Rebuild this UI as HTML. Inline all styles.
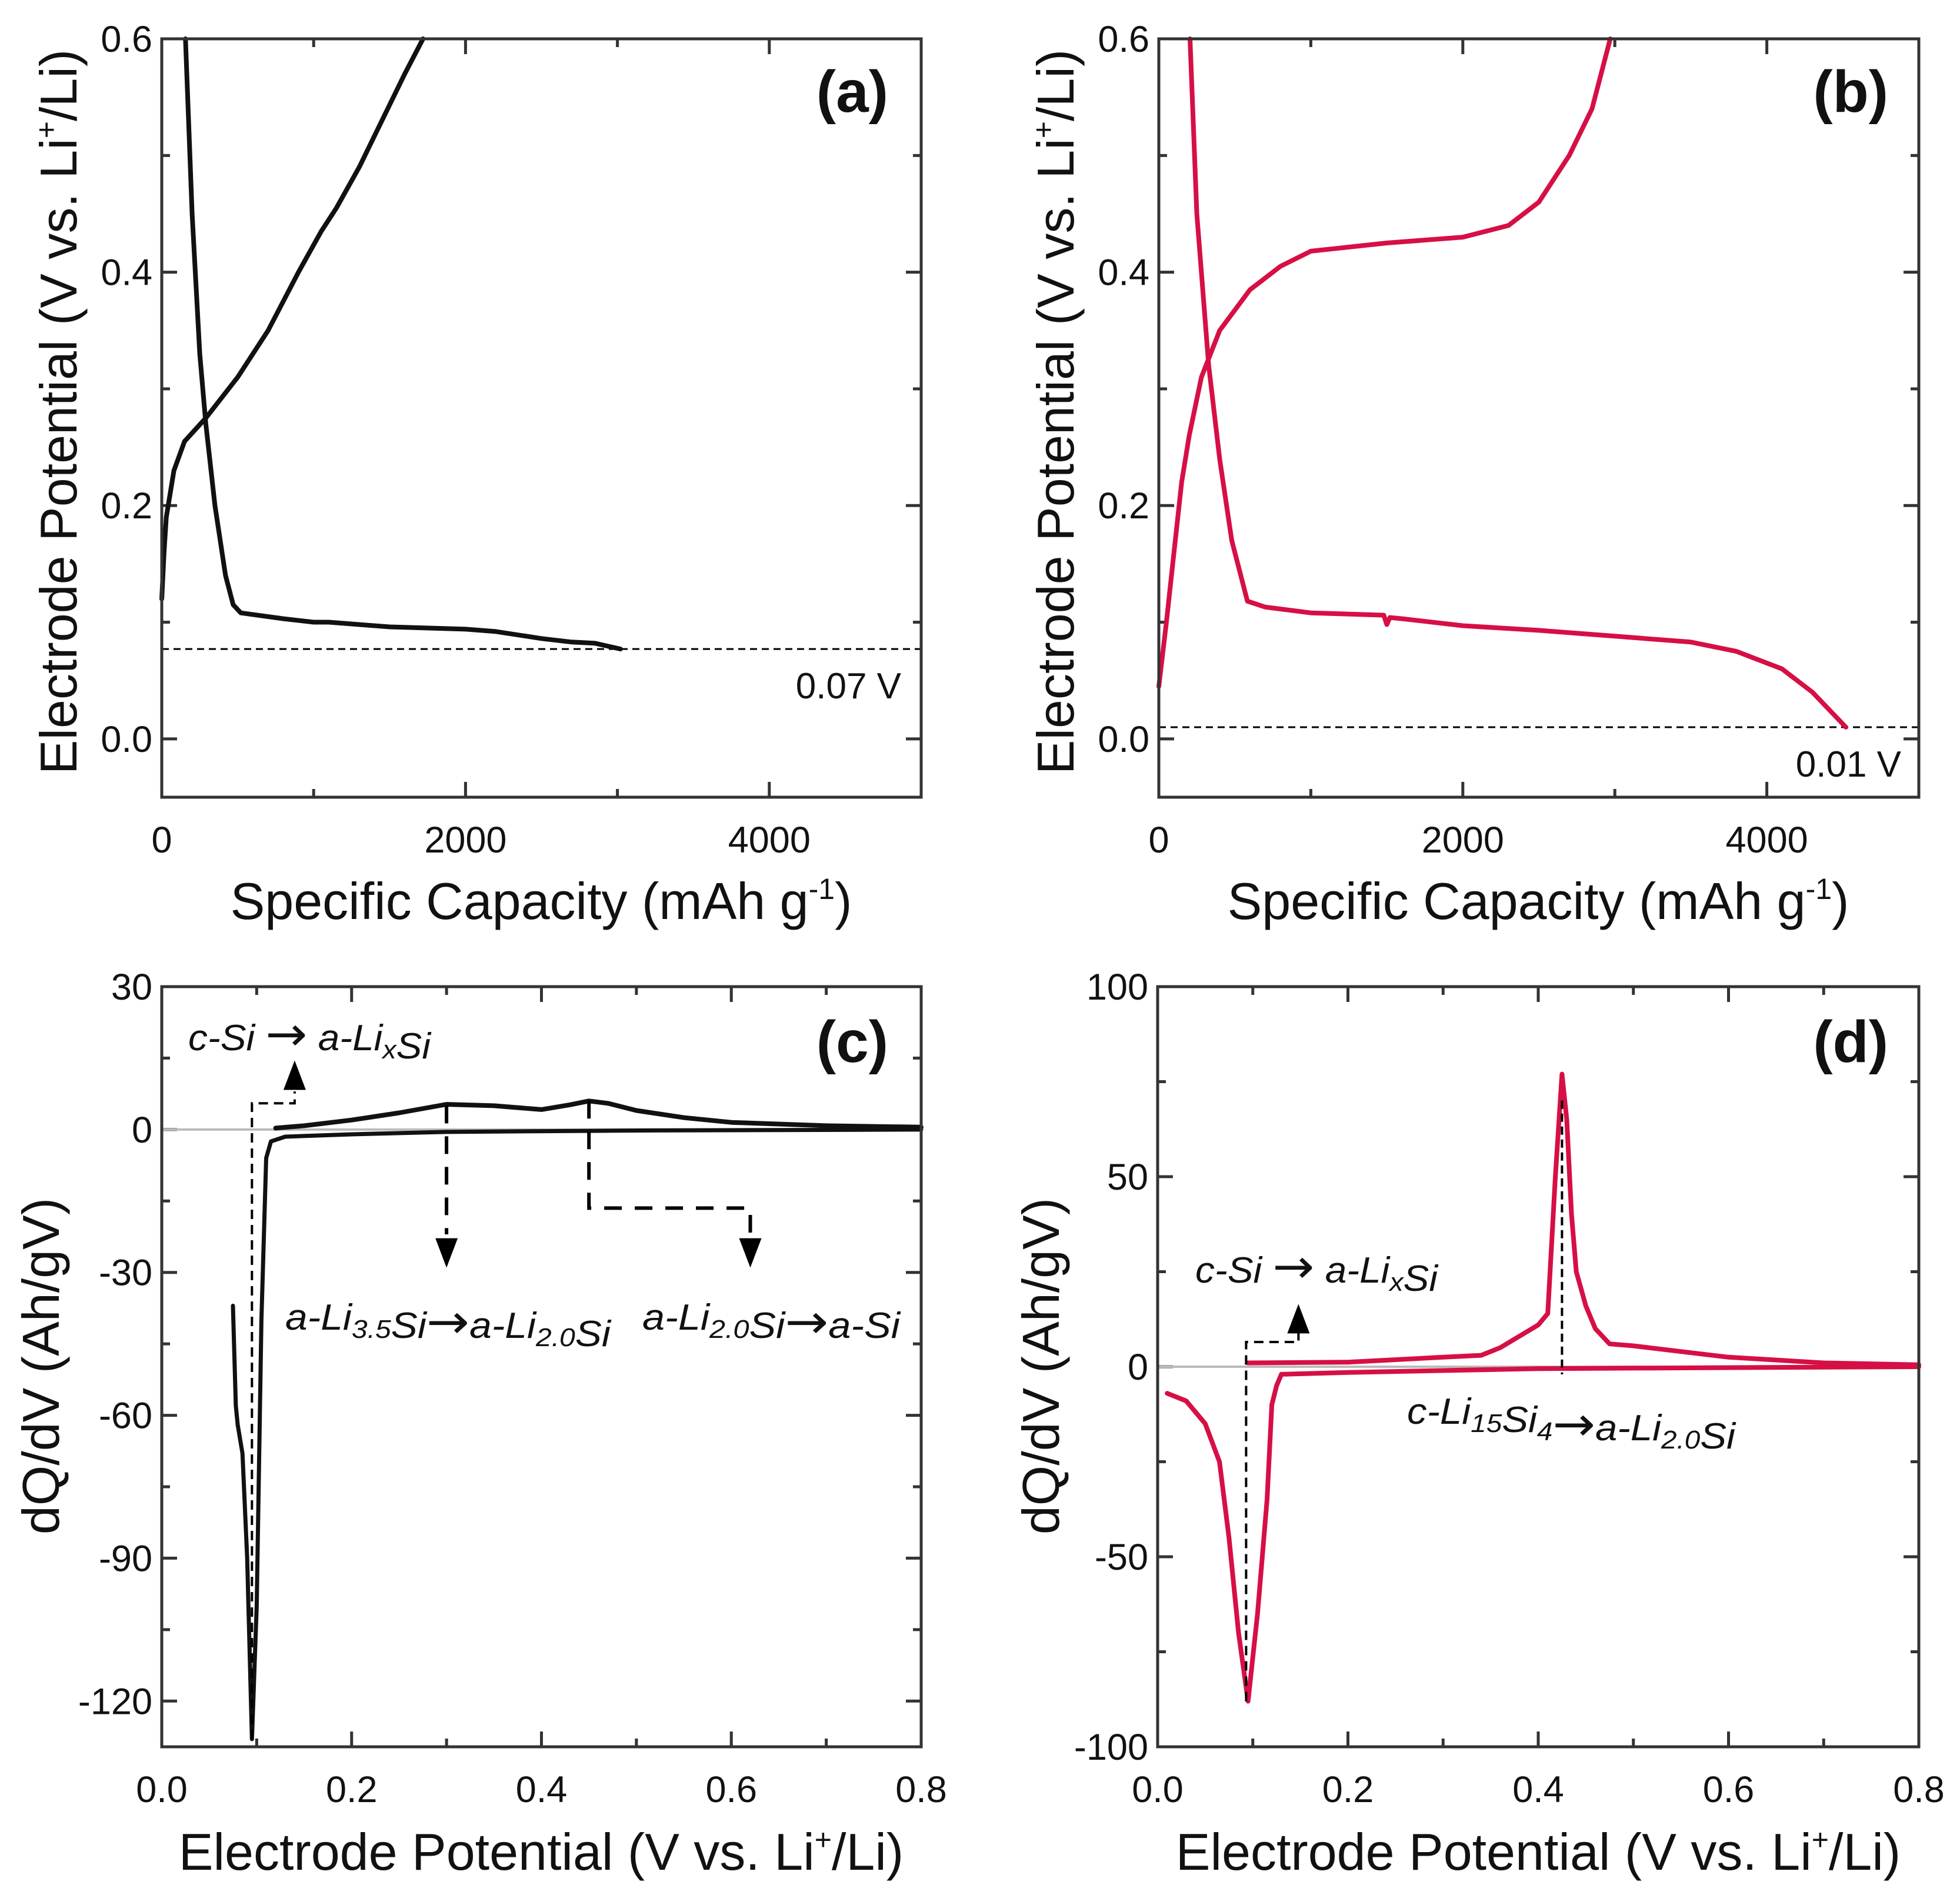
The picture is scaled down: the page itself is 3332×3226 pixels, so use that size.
<!DOCTYPE html>
<html><head><meta charset="utf-8">
<style>
html,body{margin:0;padding:0;background:#fff;}
svg{display:block;font-family:"Liberation Sans",Arial,sans-serif;}
</style></head>
<body>
<svg id="fig" width="3332" height="3226" viewBox="0 0 3332 3226" xmlns="http://www.w3.org/2000/svg"></svg>
<script>
// ---- Data ----
const aDischargeCap = [156,200,250,290,350,420,470,520,800,1000,1100,1500,2000,2200,2500,2700,2850,3020];
const aDischargeV   = [0.6,0.45,0.33,0.27,0.2,0.14,0.115,0.108,0.103,0.1,0.1,0.096,0.094,0.092,0.086,0.083,0.082,0.077];
const aChargeCap = [0,15,30,80,150,290,500,700,900,1050,1150,1300,1450,1600,1720];
const aChargeV   = [0.12,0.16,0.19,0.23,0.255,0.275,0.31,0.35,0.4,0.435,0.455,0.49,0.53,0.57,0.6];
const bDischargeCap = [205,250,328,400,480,583,700,1000,1480,1500,1520,1600,2000,2500,3000,3500,3800,4100,4300,4520];
const bDischargeV   = [0.6,0.45,0.32,0.24,0.17,0.118,0.113,0.108,0.106,0.098,0.104,0.103,0.097,0.093,0.088,0.083,0.075,0.06,0.04,0.01];
const bChargeCap = [0,50,100,150,200,280,400,600,800,1000,1500,2000,2300,2500,2700,2850,2970];
const bChargeV   = [0.045,0.1,0.16,0.22,0.26,0.31,0.35,0.385,0.405,0.418,0.425,0.43,0.44,0.46,0.5,0.54,0.6];
const cDisV  = [0.075,0.078,0.08,0.085,0.09,0.095,0.1,0.105,0.11,0.115,0.13,0.2,0.3,0.5,0.8];
const cDisQ  = [-37,-58,-62,-68,-90,-128,-100,-40,-6,-2.5,-1.5,-1,-0.5,-0.2,0];
const cChV = [0.12,0.15,0.2,0.25,0.3,0.35,0.4,0.43,0.45,0.47,0.5,0.55,0.6,0.7,0.8];
const cChQ = [0.3,0.8,2,3.5,5.3,5,4.2,5.2,6,5.5,4,2.5,1.5,0.8,0.5];
const dDisV = [0.01,0.03,0.05,0.065,0.075,0.085,0.095,0.105,0.115,0.12,0.125,0.13,0.2,0.4,0.8];
const dDisQ = [-7,-9,-15,-25,-45,-70,-88,-65,-35,-10,-5,-2,-1.5,-0.5,0];
const dChV = [0.095,0.2,0.3,0.34,0.36,0.38,0.4,0.41,0.418,0.425,0.43,0.435,0.44,0.45,0.46,0.475,0.5,0.55,0.6,0.7,0.8];
const dChQ = [1,1.2,2.5,3,5,8,11,14,50,77,65,40,25,16,10,6,5.5,4,2.5,1,0.5];
const capTicks = [0,2000,4000];
const potTicks = [0,0.2,0.4,0.6];
const vTicks = [0,0.2,0.4,0.6,0.8];
const cTicks = [30,0,-30,-60,-90,-120];
const dTicks = [100,50,0,-50,-100];

const NS="http://www.w3.org/2000/svg";
const svg=document.getElementById('fig');
function el(tag,attrs,parent){const e=document.createElementNS(NS,tag);for(const k in attrs)e.setAttribute(k,attrs[k]);(parent||svg).appendChild(e);return e;}
const RED="#d60f45";

function panel(p){
  const g=el('g',{});
  
  
  const X=v=>p.x0+(v-p.xmin)/(p.xmax-p.xmin)*(p.x1-p.x0);
  const Y=v=>p.y1-(v-p.ymin)/(p.ymax-p.ymin)*(p.y1-p.y0);
  p.X=X;p.Y=Y;p.g=g;
  const tk=el('g',{stroke:'#333','stroke-width':5},g);
  
  
  p.xMinor.forEach(v=>{const L=p.xMajor.includes(v)?26:14;const x=X(v);
    el('line',{x1:x,x2:x,y1:p.y1,y2:p.y1-L},tk);el('line',{x1:x,x2:x,y1:p.y0,y2:p.y0+L},tk);});
  p.yMinor.forEach(v=>{const L=p.yMajor.includes(v)?26:14;const y=Y(v);
    el('line',{x1:p.x0,x2:p.x0+L,y1:y,y2:y},tk);el('line',{x1:p.x1,x2:p.x1-L,y1:y,y2:y},tk);});
  p.xMajor.forEach((v,i)=>{const t=el('text',{x:X(v),y:p.y1+94,'font-size':63,'text-anchor':'middle',fill:'#111'},g);
    t.textContent=p.xLab[i];});
  p.yMajor.forEach((v,i)=>{const t=el('text',{x:p.x0-16,y:Y(v)+22,'font-size':63,'text-anchor':'end',fill:'#111'},g);
    t.textContent=p.yLab[i];});
  return p;
}
function frame(p){
  const r=el('rect',{x:p.x0,y:p.y0,width:p.x1-p.x0,height:p.y1-p.y0,fill:'none',stroke:'#333','stroke-width':5},p.g);
  
}
function line(p,xs,ys,color,name,w){
  const d=xs.map((v,i)=>(i?'L':'M')+p.X(v).toFixed(1)+','+p.Y(ys[i]).toFixed(1)).join(' ');
  const e=el('path',{d,fill:'none',stroke:color,'stroke-width':w||8,'stroke-linejoin':'round','stroke-linecap':'round'},p.g);
  
}
function dash(p,pts,w,da,name){
  const d=pts.map((q,i)=>(i?'L':'M')+p.X(q[0]).toFixed(1)+','+p.Y(q[1]).toFixed(1)).join(' ');
  const e=el('path',{d,fill:'none',stroke:'#000','stroke-width':w,'stroke-dasharray':da},p.g);
  
}
function arrow(p,xv,yv,dir,name){
  const x=p.X(xv),y=p.Y(yv);const h=50*dir;
  const e=el('polygon',{points:`${x},${y} ${x-19},${y+h} ${x+19},${y+h}`,fill:'#000'},p.g);
  
}
function label(x,y,txt,name,size,weight,anchor,rot){
  const t=el('text',{x,y,'font-size':size,'font-weight':weight||'normal','text-anchor':anchor||'middle',fill:'#111'});
  if(rot)t.setAttribute('transform',`rotate(-90 ${x} ${y})`);
  
  t.innerHTML=txt;return t;
}
function itext(x,y,html,len,name){
  const t=el('text',{x,y,'font-size':62,'font-style':'italic',fill:'#111',textLength:len,lengthAdjust:'spacingAndGlyphs'});
  
  t.innerHTML=html;
}
const sub=s=>`<tspan font-size="44" dy="14">${s}</tspan><tspan dy="-14"></tspan>`;
const ARR='<tspan font-style="normal" font-size="80" font-family="DejaVu Sans">→</tspan>';

// Panel a
const capMinor=[0,1000,2000,3000,4000,5000];
const potMinor=[0,0.1,0.2,0.3,0.4,0.5,0.6];
const pa=panel({name:'panel-a',x0:275,x1:1566,y0:66,y1:1355,xmin:0,xmax:5000,ymin:-0.05,ymax:0.6,
  xMajor:capTicks,xMinor:capMinor,xLab:capTicks.map(String),yMajor:potTicks,yMinor:potMinor,yLab:potTicks.map(v=>v.toFixed(1))});
dash(pa,[[0,0.077],[5000,0.077]],3,'12 8','cutoff-line-0.07');
line(pa,aDischargeCap,aDischargeV,'#111','discharge-curve-a');
line(pa,aChargeCap,aChargeV,'#111','charge-curve-a');
frame(pa);
label(1532,1187,'0.07 V','cutoff-label-a',62,'normal','end');
label(1510,190,'(a)','panel-label-a',100,'bold','end');
label(130,700,'Electrode Potential (V vs. Li<tspan font-size="50" dy="-34">+</tspan><tspan dy="34">/Li)</tspan>','y-axis-title-a',88,'normal','middle',true);
label(920,1562,'Specific Capacity (mAh g<tspan font-size="50" dy="-34">-1</tspan><tspan dy="34">)</tspan>','x-axis-title-a',88,'normal','middle');

// Panel b
const pb=panel({name:'panel-b',x0:1970,x1:3262,y0:66,y1:1355,xmin:0,xmax:5000,ymin:-0.05,ymax:0.6,
  xMajor:capTicks,xMinor:capMinor,xLab:capTicks.map(String),yMajor:potTicks,yMinor:potMinor,yLab:potTicks.map(v=>v.toFixed(1))});
dash(pb,[[0,0.01],[5000,0.01]],3,'12 8','cutoff-line-0.01');
line(pb,bDischargeCap,bDischargeV,RED,'discharge-curve-b');
line(pb,bChargeCap,bChargeV,RED,'charge-curve-b');
frame(pb);
label(3232,1320,'0.01 V','cutoff-label-b',62,'normal','end');
label(3210,190,'(b)','panel-label-b',100,'bold','end');
label(1825,700,'Electrode Potential (V vs. Li<tspan font-size="50" dy="-34">+</tspan><tspan dy="34">/Li)</tspan>','y-axis-title-b',88,'normal','middle',true);
label(2615,1562,'Specific Capacity (mAh g<tspan font-size="50" dy="-34">-1</tspan><tspan dy="34">)</tspan>','x-axis-title-b',88,'normal','middle');

// Panel c
const vMinor=[0,0.1,0.2,0.3,0.4,0.5,0.6,0.7,0.8];
const pc=panel({name:'panel-c',x0:275,x1:1566,y0:1677,y1:2969,xmin:0,xmax:0.8,ymin:-129.6,ymax:30,
  xMajor:vTicks,xMinor:vMinor,xLab:vTicks.map(v=>v.toFixed(1)),yMajor:cTicks,yMinor:[30,15,0,-15,-30,-45,-60,-75,-90,-105,-120],yLab:cTicks.map(String)});
dash(pc,[[0,0],[0.8,0]],4,'none','zero-line-c');
pc.g.lastChild.setAttribute('stroke','#bbb');
line(pc,cDisV,cDisQ,'#111','discharge-dqdv-c',7);
line(pc,cChV,cChQ,'#111','charge-dqdv-c',8);
dash(pc,[[0.095,-128],[0.095,5.5],[0.14,5.5],[0.14,8]],4,'16 10','annot-dash-c1');
arrow(pc,0.14,14.5,1,'annot-arrow-c1');
dash(pc,[[0.3,5],[0.3,-22]],6,'30 22','annot-dash-c2');
arrow(pc,0.3,-29,-1,'annot-arrow-c2');
dash(pc,[[0.45,6],[0.45,-16.5],[0.62,-16.5],[0.62,-22]],6,'30 22','annot-dash-c3');
arrow(pc,0.62,-29,-1,'annot-arrow-c3');
frame(pc);
itext(320,1785,'c-Si '+ARR+' a-Li'+sub('x')+'Si',412,'annotation-c-si-lithiation');
itext(485,2260,'a-Li'+sub('3.5')+'Si'+ARR+'a-Li'+sub('2.0')+'Si',553,'annotation-li35-to-li20');
itext(1092,2260,'a-Li'+sub('2.0')+'Si'+ARR+'a-Si',438,'annotation-li20-to-si');
label(1510,1805,'(c)','panel-label-c',100,'bold','end');
label(100,2322,'dQ/dV (Ah/gV)','y-axis-title-c',88,'normal','middle',true);
label(920,3178,'Electrode Potential (V vs. Li<tspan font-size="50" dy="-34">+</tspan><tspan dy="34">/Li)</tspan>','x-axis-title-c',88,'normal','middle');

// Panel d
const pd=panel({name:'panel-d',x0:1968,x1:3262,y0:1677,y1:2969,xmin:0,xmax:0.8,ymin:-100,ymax:100,
  xMajor:vTicks,xMinor:vMinor,xLab:vTicks.map(v=>v.toFixed(1)),yMajor:dTicks,yMinor:[100,75,50,25,0,-25,-50,-75,-100],yLab:dTicks.map(String)});
dash(pd,[[0,0],[0.8,0]],4,'none','zero-line-d');
pd.g.lastChild.setAttribute('stroke','#bbb');
line(pd,dDisV,dDisQ,RED,'discharge-dqdv-d',8);
line(pd,dChV,dChQ,RED,'charge-dqdv-d',8);
dash(pd,[[0.093,-88],[0.093,6.5],[0.148,6.5],[0.148,9]],4,'16 10','annot-dash-d1');
arrow(pd,0.148,16.5,1,'annot-arrow-d1');
dash(pd,[[0.425,70],[0.425,-2]],4,'14 8','annot-dash-d2');
frame(pd);
itext(2032,2180,'c-Si '+ARR+' a-Li'+sub('x')+'Si',412,'annotation-c-si-lithiation-d');
itext(2392,2420,'c-Li'+sub('15')+'Si'+sub('4')+ARR+'a-Li'+sub('2.0')+'Si',558,'annotation-li15si4-to-li20');
label(3210,1805,'(d)','panel-label-d',100,'bold','end');
label(1800,2322,'dQ/dV (Ah/gV)','y-axis-title-d',88,'normal','middle',true);
label(2615,3178,'Electrode Potential (V vs. Li<tspan font-size="50" dy="-34">+</tspan><tspan dy="34">/Li)</tspan>','x-axis-title-d',88,'normal','middle');
</script>
</body></html>
